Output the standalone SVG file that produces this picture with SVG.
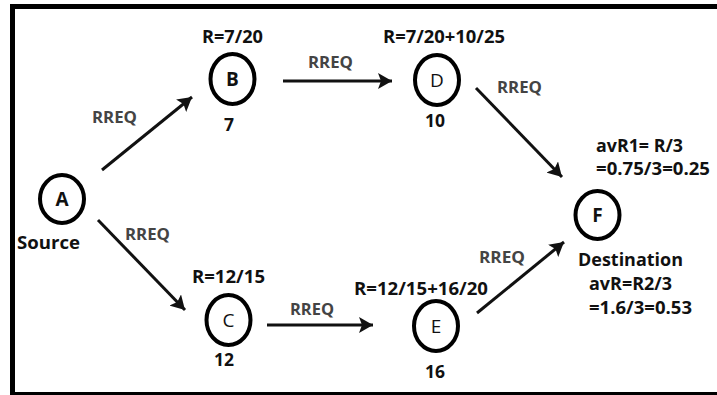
<svg xmlns="http://www.w3.org/2000/svg" width="717" height="395" viewBox="0 0 717 395">
<defs>
<style>
.node{fill:none;stroke:#000;stroke-width:4}
.nl{font-family:"Open Sans","Liberation Sans",sans-serif;font-weight:bold;font-size:19px;fill:#111;text-anchor:middle}
.nr{font-family:"Open Sans","Liberation Sans",sans-serif;font-size:19px;fill:#111;text-anchor:middle}
.t{font-family:"Open Sans","Liberation Sans",sans-serif;font-weight:bold;font-size:17.5px;fill:#111}
.rq{font-family:"Open Sans","Liberation Sans",sans-serif;font-weight:bold;font-size:16px;fill:#444}
.edge{stroke:#111;stroke-width:3;fill:none;marker-end:url(#ah)}
</style>
<marker id="ah" markerUnits="userSpaceOnUse" markerWidth="16" markerHeight="16" refX="14" refY="8" orient="auto">
<path d="M0,0 L14,8 L0,16 L3,8 z" fill="#111"/>
</marker>
</defs>
<rect x="0" y="0" width="717" height="395" fill="#fff"/>
<rect x="12.5" y="6.5" width="720" height="388" fill="none" stroke="#000" stroke-width="5"/>
<g id="connectors">
<line class="edge" x1="102" y1="170" x2="192" y2="97"/>
<line class="edge" x1="283" y1="81" x2="392" y2="81"/>
<line class="edge" x1="476" y1="88" x2="562" y2="177"/>
<line class="edge" x1="98" y1="220" x2="185" y2="310"/>
<line class="edge" x1="267" y1="325" x2="373" y2="325"/>
<line class="edge" x1="477" y1="313" x2="564" y2="242"/>
<text class="rq" x="92" y="123" textLength="45" lengthAdjust="spacingAndGlyphs">RREQ</text>
<text class="rq" x="308" y="68" textLength="45" lengthAdjust="spacingAndGlyphs">RREQ</text>
<text class="rq" x="497" y="93" textLength="45" lengthAdjust="spacingAndGlyphs">RREQ</text>
<text class="rq" x="125" y="240" textLength="45" lengthAdjust="spacingAndGlyphs">RREQ</text>
<text class="rq" x="290" y="315" textLength="44" lengthAdjust="spacingAndGlyphs">RREQ</text>
<text class="rq" x="479" y="263" textLength="46" lengthAdjust="spacingAndGlyphs">RREQ</text>
</g>
<g id="node-A">
<ellipse class="node" cx="62" cy="199" rx="22" ry="24"/>
<text class="nl" x="62" y="206">A</text>
<text class="t" x="17" y="249" textLength="63" lengthAdjust="spacingAndGlyphs">Source</text>
</g>
<g id="node-B">
<ellipse class="node" cx="232.5" cy="79" rx="22" ry="25"/>
<text class="nl" x="232.5" y="86">B</text>
<text class="t" x="202" y="43" textLength="61" lengthAdjust="spacingAndGlyphs">R=7/20</text>
<text class="t" x="229" y="131" text-anchor="middle">7</text>
</g>
<g id="node-C">
<ellipse class="node" cx="228.5" cy="320" rx="22" ry="25"/>
<text class="nr" x="228.5" y="327">C</text>
<text class="t" x="192" y="283" textLength="73" lengthAdjust="spacingAndGlyphs">R=12/15</text>
<text class="t" x="224" y="366" text-anchor="middle">12</text>
</g>
<g id="node-D">
<ellipse class="node" cx="437" cy="80" rx="22" ry="25"/>
<text class="nr" x="437" y="87">D</text>
<text class="t" x="383" y="43" textLength="122" lengthAdjust="spacingAndGlyphs">R=7/20+10/25</text>
<text class="t" x="435" y="127" text-anchor="middle">10</text>
</g>
<g id="node-E">
<ellipse class="node" cx="436" cy="326" rx="22" ry="25"/>
<text class="nr" x="436" y="333">E</text>
<text class="t" x="354" y="295" textLength="134" lengthAdjust="spacingAndGlyphs">R=12/15+16/20</text>
<text class="t" x="435" y="378" text-anchor="middle">16</text>
</g>
<g id="node-F">
<ellipse class="node" cx="597.5" cy="215" rx="22" ry="24"/>
<text class="nl" x="597.5" y="222">F</text>
<text class="t" x="596" y="152" textLength="87" lengthAdjust="spacingAndGlyphs">avR1= R/3</text>
<text class="t" x="596" y="175" textLength="114" lengthAdjust="spacingAndGlyphs">=0.75/3=0.25</text>
<text class="t" x="578" y="266" textLength="105" lengthAdjust="spacingAndGlyphs">Destination</text>
<text class="t" x="589" y="290" textLength="83" lengthAdjust="spacingAndGlyphs">avR=R2/3</text>
<text class="t" x="589" y="314" textLength="103" lengthAdjust="spacingAndGlyphs">=1.6/3=0.53</text>
</g>
</svg>
